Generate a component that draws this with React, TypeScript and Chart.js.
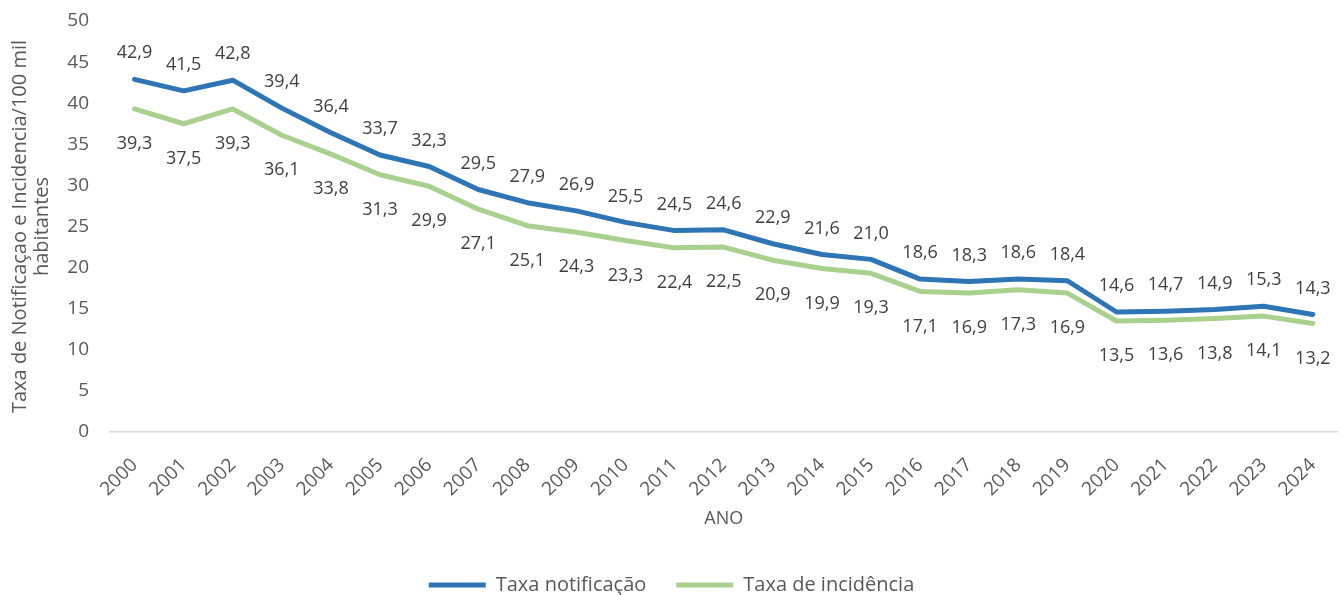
import React, { useEffect, useRef } from "react";
import { Chart, registerables } from "chart.js";

Chart.register(...registerables);

const years = [
  "2000", "2001", "2002", "2003", "2004", "2005", "2006", "2007", "2008", "2009",
  "2010", "2011", "2012", "2013", "2014", "2015", "2016", "2017", "2018", "2019",
  "2020", "2021", "2022", "2023", "2024",
];
const taxaNotificacao = [
  42.9, 41.5, 42.8, 39.4, 36.4, 33.7, 32.3, 29.5, 27.9, 26.9, 25.5, 24.5, 24.6,
  22.9, 21.6, 21.0, 18.6, 18.3, 18.6, 18.4, 14.6, 14.7, 14.9, 15.3, 14.3,
];
const taxaIncidencia = [
  39.3, 37.5, 39.3, 36.1, 33.8, 31.3, 29.9, 27.1, 25.1, 24.3, 23.3, 22.4, 22.5,
  20.9, 19.9, 19.3, 17.1, 16.9, 17.3, 16.9, 13.5, 13.6, 13.8, 14.1, 13.2,
];
const seriesNames = ["Taxa notificação", "Taxa de incidência"];
const yTitle = ["Taxa de Notificaçao e Incidencia/100 mil", "habitantes"];
const xTitle = "ANO";

const FONT = "'Open Sans', 'Noto Sans', sans-serif";
const TEXT = "#595959";
const LABEL = "#404040";
const BLUE = "#2E75B6";
const GREEN = "#A9D18E";

const fmt = (v: number) => v.toFixed(1).replace(".", ",");

const valueLabels = {
  id: "valueLabels",
  afterDatasetsDraw(chart: any) {
    const ctx = chart.ctx;
    ctx.save();
    ctx.font = `18px ${FONT}`;
    ctx.fillStyle = LABEL;
    ctx.textAlign = "center";
    ctx.textBaseline = "middle";
    chart.data.datasets.forEach((ds: any, i: number) => {
      const meta = chart.getDatasetMeta(i);
      const off = i === 0 ? -26 : 35;
      meta.data.forEach((pt: any, j: number) => {
        ctx.fillText(fmt(ds.data[j]), pt.x, pt.y + off);
      });
    });
    ctx.restore();
  },
};

export default function App() {
  const ref = useRef<HTMLCanvasElement | null>(null);
  useEffect(() => {
    if (!ref.current) return;
    const chart = new Chart(ref.current, {
      type: "line",
      data: {
        labels: years,
        datasets: [
          {
            label: seriesNames[0],
            data: taxaNotificacao,
            borderColor: BLUE,
            backgroundColor: BLUE,
            borderWidth: 5,
            pointRadius: 0,
            tension: 0,
            borderJoinStyle: "round",
            borderCapStyle: "round",
          },
          {
            label: seriesNames[1],
            data: taxaIncidencia,
            borderColor: GREEN,
            backgroundColor: GREEN,
            borderWidth: 5,
            pointRadius: 0,
            tension: 0,
            borderJoinStyle: "round",
            borderCapStyle: "round",
          },
        ],
      },
      options: {
        animation: false,
        responsive: false,
        maintainAspectRatio: false,
        layout: { padding: { top: 21, left: 0, right: 0, bottom: -10 } },
        plugins: {
          legend: {
            position: "bottom",
            labels: {
              usePointStyle: true,
              pointStyle: "line",
              pointStyleWidth: 57,
              boxWidth: 57,
              padding: 30,
              color: TEXT,
              font: { family: FONT, size: 20 },
            },
          },
          tooltip: { enabled: false },
        },
        scales: {
          x: {
            offset: true,
            grid: { display: false },
            border: { display: true, color: "#D9D9D9", width: 1.5 },
            ticks: {
              color: TEXT,
              font: { family: FONT, size: 19 },
              maxRotation: 45,
              minRotation: 45,
              padding: 14,
              autoSkip: false,
            },
            title: {
              display: true,
              text: xTitle,
              color: TEXT,
              font: { family: FONT, size: 18 },
              padding: { top: 0, bottom: 15 },
            },
            afterFit: (s: any) => {
              s.height = 113;
            },
          },
          y: {
            min: 0,
            max: 50,
            grid: { display: false },
            border: { display: false },
            ticks: {
              stepSize: 5,
              color: TEXT,
              font: { family: FONT, size: 19 },
              padding: 13,
            },
            title: {
              display: true,
              text: yTitle,
              color: TEXT,
              font: { family: FONT, size: 20, lineHeight: 1.1 },
              padding: { top: 9, bottom: 0 },
            },
            afterFit: (s: any) => {
              s.width = 110;
              s.paddingTop = 0;
              s.paddingBottom = 0;
            },
          },
        },
      },
      plugins: [valueLabels],
    });
    return () => chart.destroy();
  }, []);
  return (
    <div style={{ position: "absolute", left: 0, top: 0, width: 1343, height: 595 }}>
      <canvas ref={ref} width={1343} height={595} style={{ display: "block" }} />
    </div>
  );
}
